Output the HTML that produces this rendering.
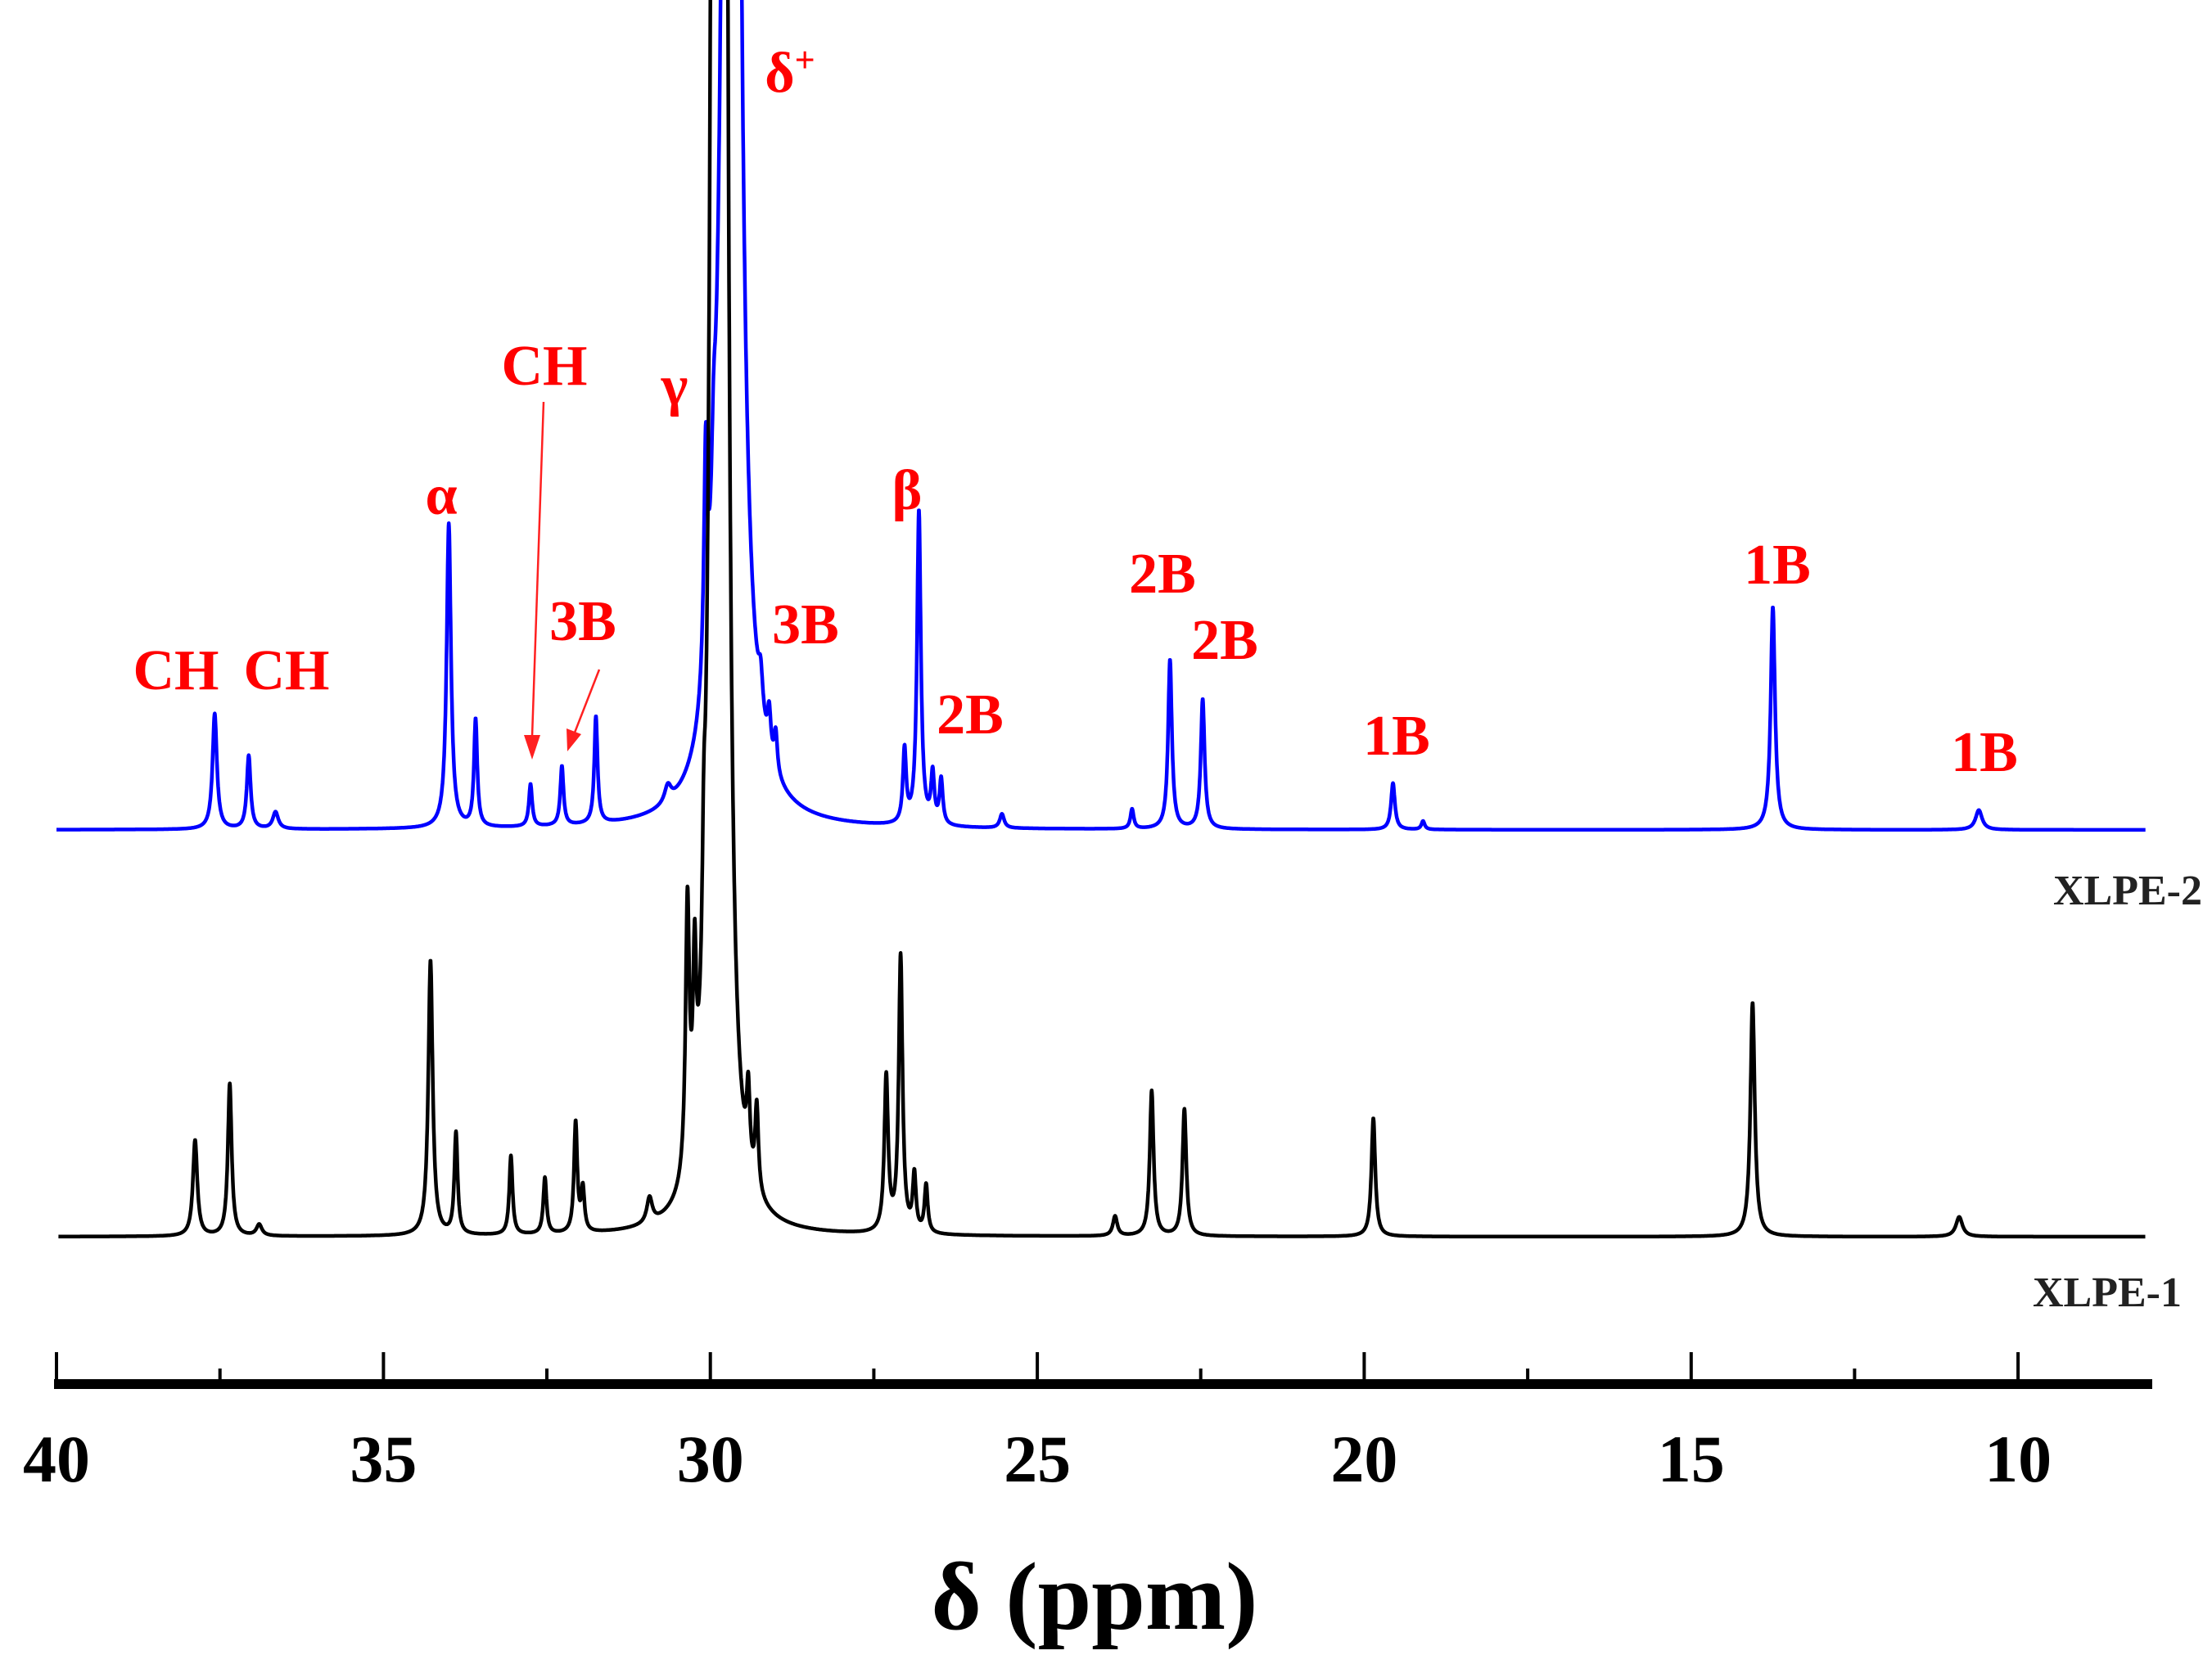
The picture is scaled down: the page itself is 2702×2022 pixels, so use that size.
<!DOCTYPE html>
<html><head><meta charset="utf-8"><style>
html,body{margin:0;padding:0;background:#fff;}
svg{display:block;}
.lbl{font-family:"Liberation Serif",serif;font-weight:bold;fill:#ff0000;font-size:70px;}
.tick{font-family:"Liberation Serif",serif;font-weight:bold;font-size:82px;fill:#000;}
.name{font-family:"Liberation Serif",serif;font-weight:bold;font-size:52px;fill:#222;}
</style></head><body>
<svg id="chart" width="2702" height="2022" viewBox="0 0 2702 2022" xmlns="http://www.w3.org/2000/svg">
<defs><clipPath id="plotclip"><rect x="0" y="0" width="2702" height="1640"/></clipPath></defs>
<g id="traces" clip-path="url(#plotclip)"></g>
<g id="axis"></g>
<text x="1337" y="1990" text-anchor="middle" style="font-family:'Liberation Serif',serif;font-weight:bold;font-size:118px">δ (ppm)</text>
<text class="name" x="2690" y="1105" text-anchor="end">XLPE-2</text>
<text class="name" x="2665" y="1596" text-anchor="end">XLPE-1</text>
<g>
<text class="lbl" x="965" y="112" text-anchor="middle">δ<tspan dy="-24" font-size="44">+</tspan></text>
<text class="lbl" x="824" y="494" text-anchor="middle">γ</text>
<text class="lbl" x="665" y="470" text-anchor="middle">CH</text>
<text class="lbl" x="539" y="628" text-anchor="middle">α</text>
<text class="lbl" x="712" y="782" text-anchor="middle">3B</text>
<text class="lbl" x="215" y="842" text-anchor="middle">CH</text>
<text class="lbl" x="350" y="842" text-anchor="middle">CH</text>
<text class="lbl" x="1108" y="622" text-anchor="middle">β</text>
<text class="lbl" x="984" y="786" text-anchor="middle">3B</text>
<text class="lbl" x="1185" y="896" text-anchor="middle">2B</text>
<text class="lbl" x="1420" y="724" text-anchor="middle">2B</text>
<text class="lbl" x="1496" y="805" text-anchor="middle">2B</text>
<text class="lbl" x="1706" y="922" text-anchor="middle">1B</text>
<text class="lbl" x="2171" y="713" text-anchor="middle">1B</text>
<text class="lbl" x="2424" y="942" text-anchor="middle">1B</text>
<line x1="664" y1="491" x2="650" y2="900" stroke="#ff2020" stroke-width="2.5"/>
<polygon points="640,898 660,898 650,928" fill="#ff2020"/>
<line x1="732" y1="818" x2="702" y2="895" stroke="#ff2020" stroke-width="2.5"/>
<polygon points="692,890 710,897 693,918" fill="#ff2020"/>
</g>
</svg>
<script>
// Peak data (ppm, intensity in display units above baseline, half-width ppm)
const bluePpm = [37.58,37.06,36.65,34.0,33.59,32.75,32.27,31.75,30.65,30.07,29.95,29.68,29.23,29.1,29.0,27.03,26.81,26.6,26.47,25.54,23.55,22.97,22.47,19.56,19.1,13.75,10.6];
const blueInt = [82,52,12,216,76,30,42,76,12,160,70,3000,28,30,28,52,223,35,32,10,14,120,92,33,6,158,14];
const blueWid = [0.04,0.035,0.05,0.04,0.03,0.03,0.03,0.03,0.06,0.035,0.04,0.08,0.04,0.03,0.03,0.03,0.035,0.03,0.03,0.04,0.03,0.035,0.035,0.035,0.03,0.04,0.06];
const blackPpm = [37.88,37.35,36.9,34.28,33.89,33.05,32.53,32.06,31.95,30.93,30.35,30.24,30.1,29.94,29.79,29.42,29.29,27.31,27.09,26.88,26.7,23.81,23.25,22.75,19.86,14.06,10.9];
const blackInt = [68,108,8,195,72,56,40,78,30,18,190,120,90,1500,1500,55,60,110,196,40,34,14,103,90,84,166,14];
const blackWid = [0.04,0.035,0.05,0.04,0.03,0.03,0.03,0.03,0.03,0.05,0.035,0.03,0.03,0.06,0.06,0.03,0.03,0.035,0.035,0.03,0.03,0.04,0.035,0.035,0.035,0.04,0.06];
const majorTicks = [40,35,30,25,20,15,10];
const minorTicks = [37.5,32.5,27.5,22.5,17.5,12.5];

const NS='http://www.w3.org/2000/svg';
function xs(p){return 69+(40-p)*79.87;}
const dispScale=1.723;
function spec(ppm,int,wid,p){let s=0;for(let i=0;i<ppm.length;i++){const d=p-ppm[i];s+=int[i]*wid[i]*wid[i]/(d*d+wid[i]*wid[i]);}return s;}
function trace(ppm,int,wid,base,start,end,color,name){
  let d='';
  for(let p=start;p>=end;p-=0.004){
    let v=spec(ppm,int,wid,p);
    let y=base-v*dispScale; if(y<-50)y=-50;
    d+=(d?'L':'M')+xs(p).toFixed(1)+','+y.toFixed(1);
  }
  const path=document.createElementNS(NS,'path');
  path.setAttribute('d',d);path.setAttribute('fill','none');
  path.setAttribute('stroke',color);path.setAttribute('stroke-width','4.5');
  path.setAttribute('stroke-linejoin','round');
  
  
  document.getElementById('traces').appendChild(path);
}
trace(bluePpm,blueInt,blueWid,1014,40,8.05,'#0000ff','spectrum-xlpe-2');
trace(blackPpm,blackInt,blackWid,1511,39.97,8.05,'#000000','spectrum-xlpe-1');

const ax=document.getElementById('axis');
const line=document.createElementNS(NS,'rect');
line.setAttribute('x','66');line.setAttribute('y','1685');line.setAttribute('width','2563');line.setAttribute('height','12');line.setAttribute('fill','#000');


ax.appendChild(line);
majorTicks.forEach(t=>{
  const l=document.createElementNS(NS,'rect');
  l.setAttribute('x',(xs(t)-2).toFixed(1));l.setAttribute('y','1652');l.setAttribute('width','4');l.setAttribute('height','36');l.setAttribute('fill','#000');
  
  
  ax.appendChild(l);
  const tx=document.createElementNS(NS,'text');
  tx.setAttribute('x',xs(t).toFixed(1));tx.setAttribute('y','1810');tx.setAttribute('text-anchor','middle');tx.setAttribute('class','tick');
  tx.textContent=t;
  
  
  ax.appendChild(tx);
});
minorTicks.forEach(t=>{
  const l=document.createElementNS(NS,'rect');
  l.setAttribute('x',(xs(t)-2).toFixed(1));l.setAttribute('y','1672');l.setAttribute('width','4');l.setAttribute('height','16');l.setAttribute('fill','#000');
  
  
  ax.appendChild(l);
});
</script>
</body></html>
